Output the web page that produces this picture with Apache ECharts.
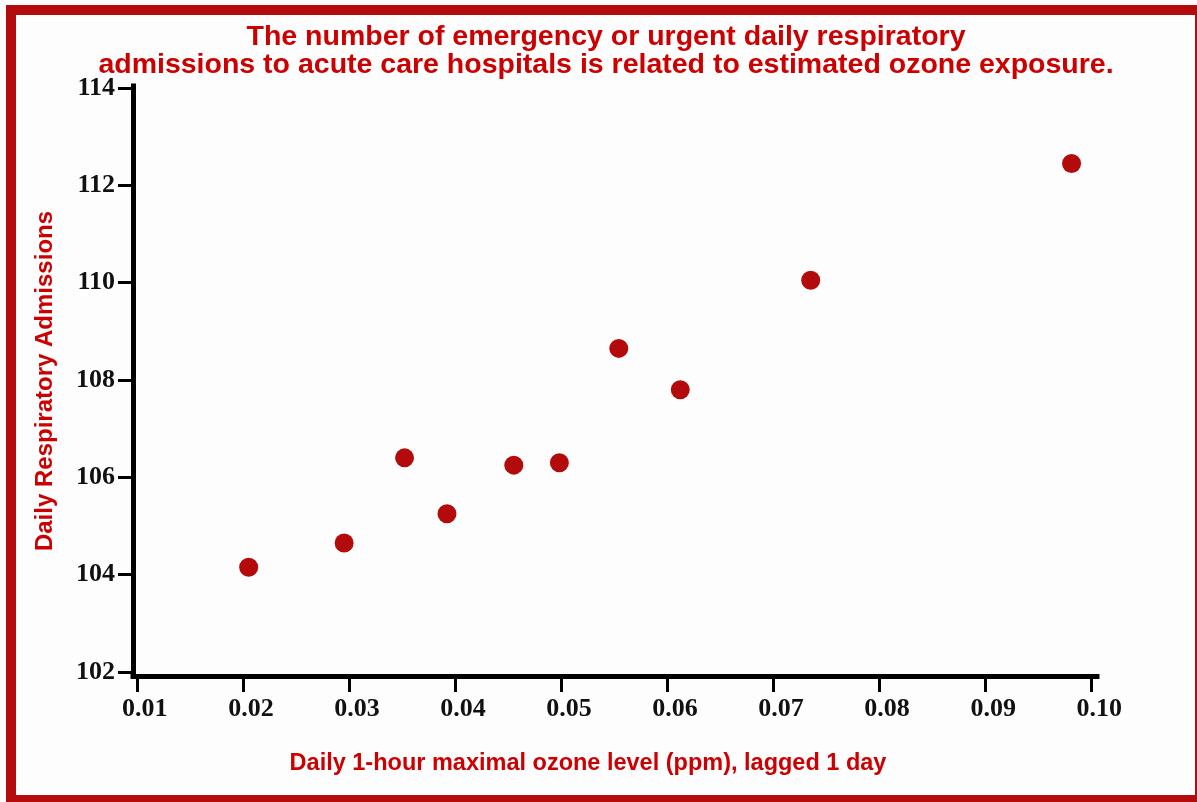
<!DOCTYPE html>
<html>
<head>
<meta charset="utf-8">
<script src="https://cdn.jsdelivr.net/npm/echarts@6/dist/echarts.min.js"></script>
<style>
html,body{margin:0;padding:0;background:#fdfdfd;}
#chart{width:1197px;height:802px;}
</style>
</head>
<body>
<div id="chart"></div>
<script>
// ---- data ----
const titleLines = [
  'The number of emergency or urgent daily respiratory',
  'admissions to acute care hospitals is related to estimated ozone exposure.'
];
const xName = 'Daily 1-hour maximal ozone level (ppm), lagged 1 day';
const yName = 'Daily Respiratory Admissions';
const xTicks = [0.01, 0.02, 0.03, 0.04, 0.05, 0.06, 0.07, 0.08, 0.09, 0.10];
const yTicks = [102, 104, 106, 108, 110, 112, 114];
const ozone      = [0.0205, 0.0295, 0.0352, 0.0392, 0.0455, 0.0498, 0.0554, 0.0612, 0.0735, 0.0981];
const admissions = [104.15, 104.65, 106.40, 105.25, 106.25, 106.30, 108.65, 107.80, 110.05, 112.45];

const points = ozone.map((x, i) => [x, admissions[i]]);

const chart = echarts.init(document.getElementById('chart'));
chart.setOption({
  backgroundColor: '#fdfdfd',
  animation: false,
  title: {
    text: titleLines.join('\n'),
    left: 606,
    textAlign: 'center',
    top: 23,
    padding: 0,
    textStyle: {
      fontFamily: 'Liberation Sans, Arial, sans-serif',
      fontWeight: 'bold',
      fontSize: 28.5,
      lineHeight: 28,
      color: '#cc0000'
    }
  },
  graphic: [{
    type: 'rect',
    silent: true,
    shape: { x: 11, y: 10, width: 1189, height: 790 },
    style: { fill: 'none', stroke: '#b40c0c', lineWidth: 10 }
  }],
  grid: { left: 133, right: 100, top: 86, bottom: 126, outerBoundsMode: 'none' },
  xAxis: {
    type: 'value',
    min: 0.00959,
    max: 0.1005,
    name: xName,
    nameLocation: 'middle',
    nameGap: 76,
    nameTextStyle: {
      fontFamily: 'Liberation Sans, Arial, sans-serif',
      fontWeight: 'bold',
      fontSize: 23.5,
      color: '#cc0000',
      padding: [0, 54, 0, 0]
    },
    splitLine: { show: false },
    axisLine: { show: true, onZero: false, lineStyle: { color: '#000', width: 5, cap: 'square' } },
    axisTick: { show: true, customValues: xTicks, length: 16, lineStyle: { color: '#000', width: 3 } },
    axisLabel: {
      customValues: xTicks,
      formatter: v => v.toFixed(2),
      margin: 20,
      padding: [0, 0, 0, 15],
      fontFamily: 'Liberation Serif, Times New Roman, serif',
      fontWeight: 'bold',
      fontSize: 26,
      color: '#111'
    }
  },
  yAxis: {
    type: 'value',
    min: 101.916,
    max: 114.043,
    name: yName,
    nameLocation: 'middle',
    nameGap: 76,
    nameTextStyle: {
      fontFamily: 'Liberation Sans, Arial, sans-serif',
      fontWeight: 'bold',
      fontSize: 24,
      color: '#cc0000'
    },
    splitLine: { show: false },
    axisLine: { show: true, onZero: false, lineStyle: { color: '#000', width: 5, cap: 'square' } },
    axisTick: { show: true, customValues: yTicks, length: 15, lineStyle: { color: '#000', width: 3 } },
    axisLabel: {
      customValues: yTicks,
      margin: 18,
      fontFamily: 'Liberation Serif, Times New Roman, serif',
      fontWeight: 'bold',
      fontSize: 26,
      color: '#111'
    }
  },
  series: [{
    type: 'scatter',
    data: points,
    symbol: 'circle',
    symbolSize: 19,
    itemStyle: { color: '#b30b0b', opacity: 1 }
  }]
});
</script>
</body>
</html>
